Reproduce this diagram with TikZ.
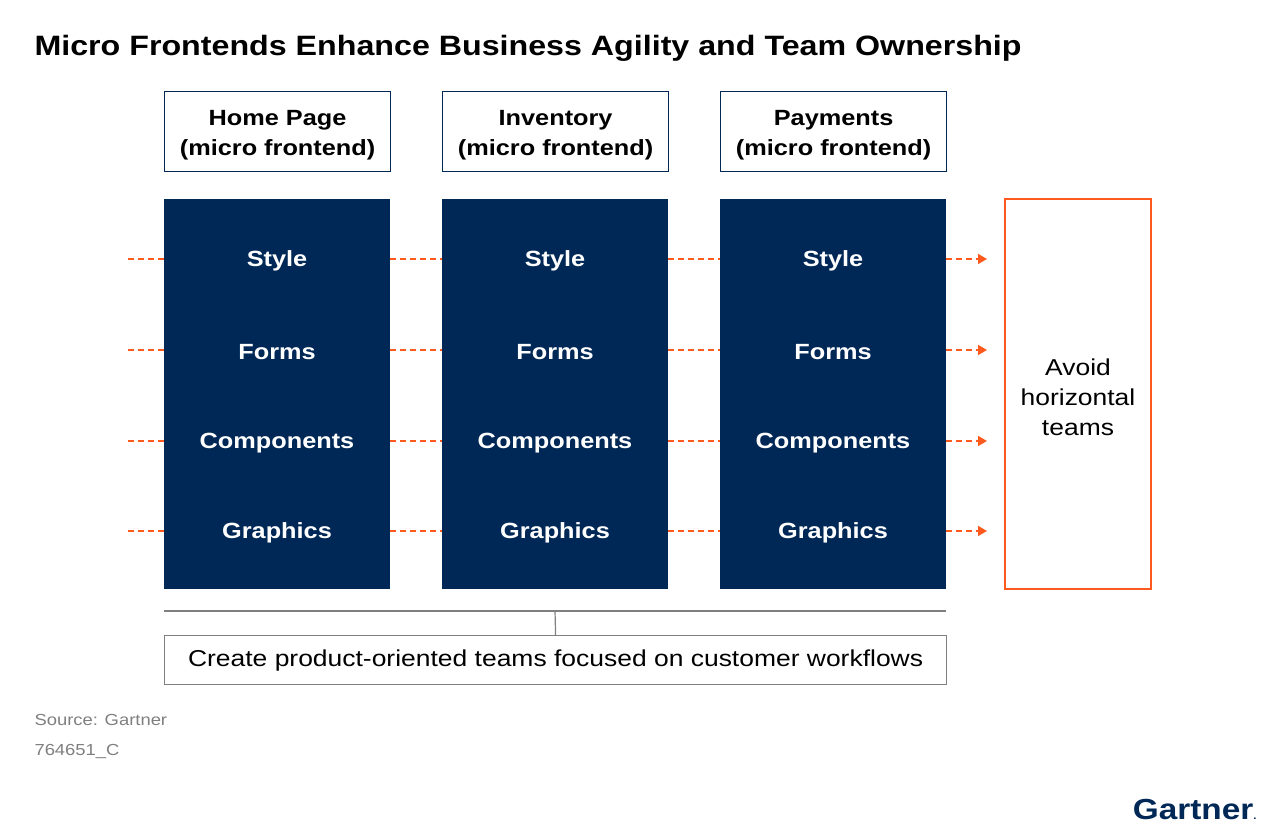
\documentclass[tikz,border=0pt]{standalone}
\usepackage{fontspec}
\setmainfont{Liberation Sans}[FakeStretch=1.15]
\usetikzlibrary{arrows.meta}
\definecolor{navy}{HTML}{002856}
\definecolor{orng}{HTML}{FF5A1E}
\definecolor{gry}{HTML}{7F7F7F}
\tikzset{
 hdr/.style={draw=navy,line width=1.2pt,minimum width=226pt,minimum height=80pt,anchor=north west,inner sep=0pt},
 hdrtxt/.style={align=center,font=\fontsize{22}{30}\selectfont\bfseries},
 col/.style={fill=navy,minimum width=226pt,minimum height=390pt,anchor=north west,inner sep=0pt},
 itm/.style={text=white,font=\fontsize{22}{26}\selectfont\bfseries},
 dsh/.style={draw=orng,line width=1.8pt,dash pattern=on 6pt off 4pt},
 arr/.style={dsh,-{Triangle[length=9pt,width=10pt,fill=orng]}},
}
\begin{document}
\begin{tikzpicture}[x=1pt,y=-1pt]
\useasboundingbox (0,0) rectangle (1280,837);
\node[anchor=west,font=\fontsize{28}{32}\selectfont\bfseries] (title) at (31,48) {Micro Frontends Enhance Business Agility and Team Ownership};
\foreach \n/\x/\t in {a/164/Home Page,b/442/Inventory,c/720/Payments}{
 \node[hdr] (h\n) at (\x,91) {};
 \node[hdrtxt] (t\n) at ([yshift=-4pt]h\n.center) {\t\\(micro frontend)};
 \node[col] (c\n) at (\x,199) {};
}
\foreach \n/\x in {a/277,b/555,c/833}{
 \node[itm] (s\n) at (\x,261) {Style};
 \node[itm] (f\n) at (\x,352) {Forms};
 \node[itm] (k\n) at (\x,443) {Components};
 \node[itm] (g\n) at (\x,533) {Graphics};
}
\draw[orng,line width=1.5pt] (1005,199) rectangle (1151,589);
\node[align=center,font=\fontsize{23}{30}\selectfont] (avoid) at (1078,397) {Avoid\\horizontal\\teams};
\foreach \y/\r in {259/s,350/f,441/k,531/g}{
 \coordinate (l\r) at (128,\y);
 \coordinate (e\r) at (987,\y);
 \draw[dsh] (l\r) -- (ca.west |- l\r);
 \draw[dsh] (ca.east |- l\r) -- (cb.west |- l\r);
 \draw[dsh] (cb.east |- l\r) -- (cc.west |- l\r);
 \draw[arr] (cc.east |- l\r) -- (e\r);
}
\node[draw=gry,line width=1.2pt,minimum width=782pt,minimum height=49pt,anchor=north west,inner sep=0pt,font=\fontsize{23}{26}\selectfont] (prod) at (164,635) {Create product-oriented teams focused on customer workflows};
\coordinate (bl) at (164,611); \coordinate (br) at (946,611); \coordinate (bm) at (555,611);
\draw[gry,line width=1.2pt] (bl) -- (br);
\draw[gry,line width=1.2pt] (bm) -- (prod.north);
\node[anchor=west,text=gry,font=\fontsize{16}{20}\selectfont] (src) at (31,720) {Source: Gartner};
\node[anchor=west,text=gry,font=\fontsize{16}{20}\selectfont] (id) at (31,751) {764651\_C};
\node[anchor=east,text=navy,font=\fontsize{29}{34}\selectfont\bfseries] (logo) at (1260,810) {Gartner{\fontsize{10}{10}\selectfont.}};
\end{tikzpicture}
\end{document}
